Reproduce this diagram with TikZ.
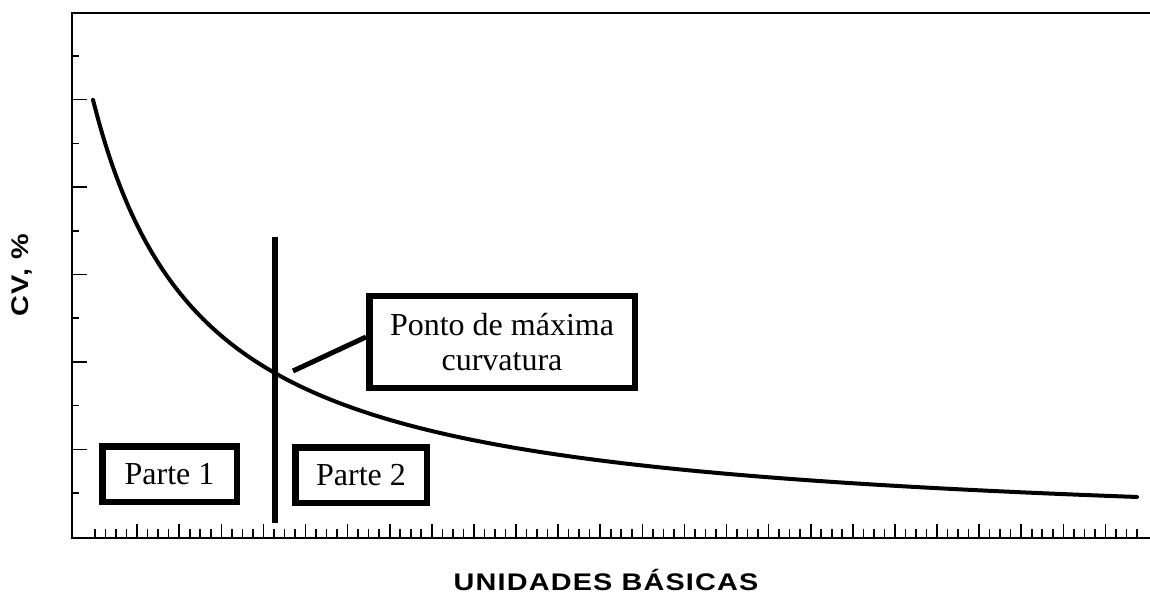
\documentclass[tikz,border=0pt]{standalone}
\usepackage{fontspec}
\setmainfont{Liberation Serif}
\newfontfamily\labfont{Liberation Sans}[FakeStretch=1.2,LetterSpace=5]
\begin{document}
\begin{tikzpicture}[x=1bp,y=-1bp,
  axisline/.style={line width=2.2bp,black},
  tickline/.style={line width=1.6bp,black},
  curveline/.style={line width=4bp,black,line cap=round},
  divline/.style={line width=5.5bp,black},
  linkline/.style={line width=5bp,black},
  labelbox/.style={draw=black,line width=6.5bp,fill=white,inner sep=0pt,
     font=\fontsize{32bp}{35bp}\selectfont,align=center},
  axislabel/.style={font=\labfont\bfseries\fontsize{24bp}{28bp}\selectfont,inner sep=0pt}
]
\useasboundingbox (0,0) rectangle (1150,602);
% frame / axes
\coordinate (tr) at (1150,13);
\coordinate (tl) at (72,13);
\coordinate (bl) at (72,538);
\coordinate (br) at (1150,538);
\draw[axisline] (tr) -- (tl) -- (bl) -- (br);
% y ticks
\foreach \i in {0,...,10}{
  \pgfmathsetmacro{\yy}{56+43.7*\i}
  \pgfmathsetmacro{\len}{ifthenelse(mod(\i,2)==1,15,7)}
  \draw[tickline] (72,\yy) -- ++(\len,0);
}
% x ticks
\foreach \i in {0,...,99}{
  \pgfmathsetmacro{\xx}{95+10.525*\i}
  \pgfmathsetmacro{\len}{ifthenelse(and(mod(\i,4)==0,\i>0),14,9)}
  \draw[tickline] (\xx,538) -- ++(0,-\len);
}
% curve
\draw[curveline] plot[domain=93:1137,samples=200,smooth] (\x,{539-485.25/((\x+17.5)/100)});
% dividing line
\coordinate (vt) at (275,237);
\coordinate (vb) at (275,523);
\draw[divline] (vt) -- (vb);
% boxes
\node[labelbox,minimum width=134.5bp,minimum height=55.5bp] (p1) at (169.5,474) {Parte 1};
\node[labelbox,minimum width=131.5bp,minimum height=55.5bp] (p2) at (361,475) {Parte 2};
\node[labelbox,minimum width=265.5bp,minimum height=91.5bp] (pc) at (502,342) {Ponto de máxima\\curvatura};
% connector
\coordinate (ls) at (293,371);
\draw[linkline] (ls) -- ([yshift=5bp]pc.west);
% axis labels
\node[axislabel] (xl) at (606,580) {UNIDADES BÁSICAS};
\node[axislabel,rotate=90] (yl) at (22,275) {CV, \%};
\end{tikzpicture}
\end{document}
